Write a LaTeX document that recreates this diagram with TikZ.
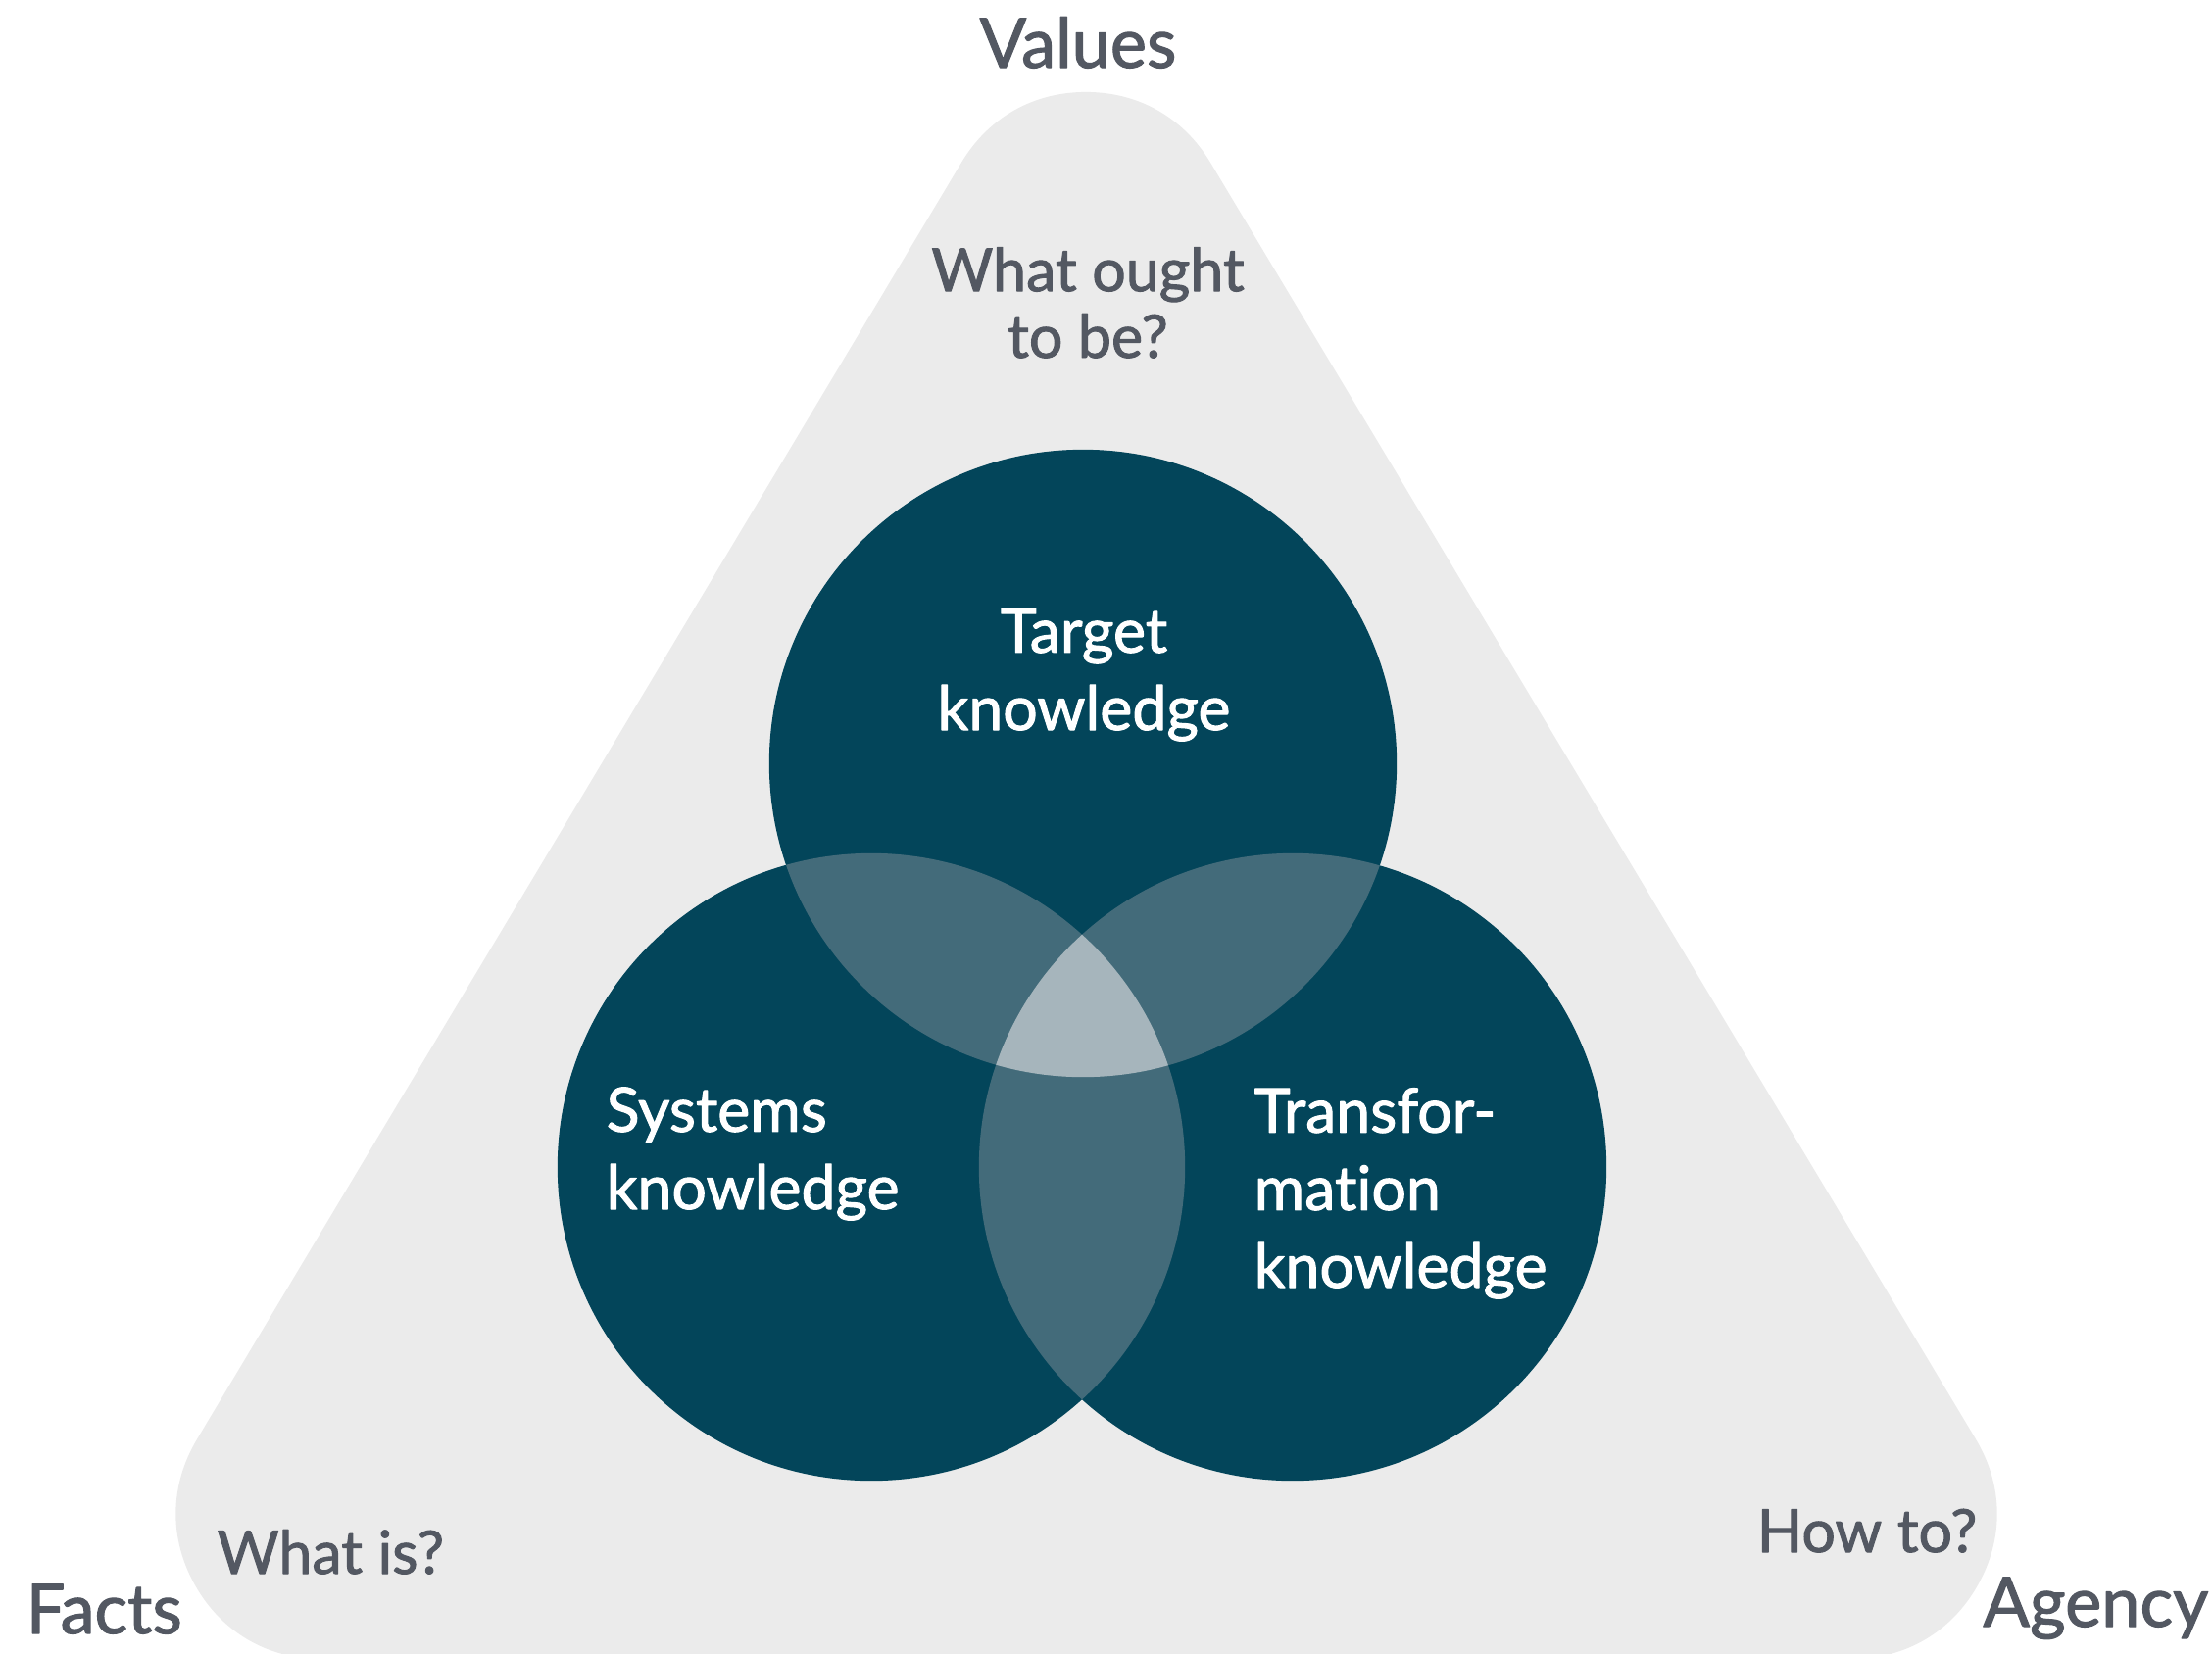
\documentclass[tikz,border=0pt]{standalone}
\usepackage{fontspec}
\setmainfont{Lato}[Ligatures=NoCommon, BoldFont=Lato, BoldFeatures={FakeBold=1.6}]
\definecolor{venndark}{HTML}{03455A}
\definecolor{vennpair}{HTML}{436B7A}
\definecolor{venntriple}{HTML}{A6B5BC}
\definecolor{bggray}{HTML}{EBEBEB}
\definecolor{txtgray}{HTML}{535862}
\tikzset{
  corner/.style={text=txtgray, font=\fontsize{20}{24}\bfseries, inner sep=0pt},
  question/.style={text=txtgray, font=\fontsize{17.3}{19.3}\bfseries, inner sep=0pt, align=center},
  inlabel/.style={text=white, font=\fontsize{17.8}{22.5}\bfseries, inner sep=0pt},
}
\begin{document}
\begin{tikzpicture}[x=0.01cm, y=-0.01cm, line join=round, line cap=round]
  \useasboundingbox (0,0) rectangle (2257,1687);
  \def\r{3.2cm} % circle radius
  % rounded triangle
  \coordinate (vtop) at (1108,242);
  \coordinate (vleft) at (328,1545);
  \coordinate (vright) at (1889,1545);
  \filldraw[bggray, line width=2.96cm] (vtop)--(vleft)--(vright)--cycle;
  % circles
  \coordinate (target) at (1105,779);
  \coordinate (systems) at (889,1191);
  \coordinate (transf) at (1319,1191);
  \foreach \c in {target,systems,transf} \fill[venndark] (\c) circle[radius=\r];
  \begin{scope}
    \clip (target) circle[radius=\r];
    \fill[vennpair] (systems) circle[radius=\r];
    \fill[vennpair] (transf) circle[radius=\r];
  \end{scope}
  \begin{scope}
    \clip (systems) circle[radius=\r];
    \fill[vennpair] (transf) circle[radius=\r];
  \end{scope}
  \begin{scope}
    \clip (target) circle[radius=\r];
    \clip (systems) circle[radius=\r];
    \fill[venntriple] (transf) circle[radius=\r];
  \end{scope}
  % labels (base = last line)
  \node[corner, anchor=base] (values) at (1100,69) {Values};
  \node[corner, anchor=base west] (facts) at (26,1667) {Facts};
  \node[corner, anchor=base east] (agency) at (2254,1660) {Agency};
  \node[question, anchor=base] (ought) at (1110,365) {What ought\\to be?};
  \node[question, anchor=base west] (whatis) at (221,1606) {What is?};
  \node[question, anchor=base east] (howto) at (2018,1584) {How to?};
  \node[inlabel, align=center, anchor=base] (tlabel) at (1106,745) {Target\\knowledge};
  \node[inlabel, align=left, anchor=base west] (slabel) at (618,1234) {Systems\\knowledge};
  \node[inlabel, align=left, anchor=base west] (hlabel) at (1279,1314) {Transfor-\\mation\\knowledge};
\end{tikzpicture}
\end{document}
